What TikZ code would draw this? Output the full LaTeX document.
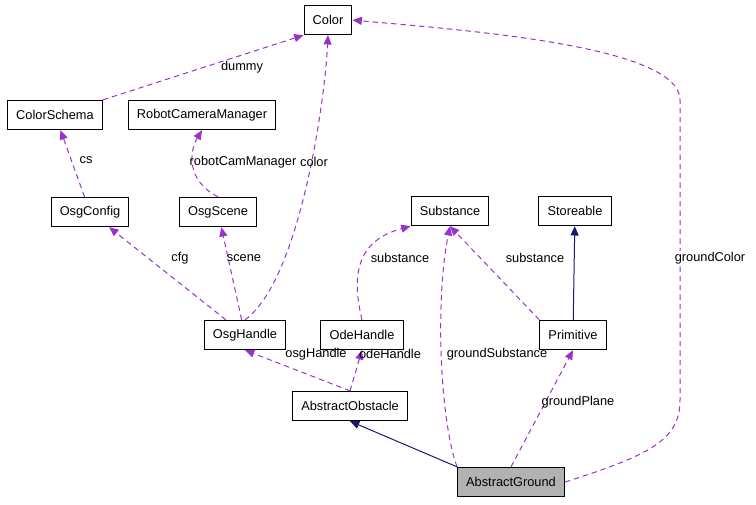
\documentclass[tikz,border=0pt]{standalone}
\usepackage{fontspec}
\setmainfont{Liberation Sans}
\usetikzlibrary{arrows.meta}
\definecolor{edgeuse}{RGB}{153,50,204}
\definecolor{edgeinh}{RGB}{25,25,112}
\begin{document}
\begin{tikzpicture}[x=0.75pt,y=-0.75pt,
    font=\fontsize{9.6}{11}\selectfont,
    cls/.style={draw,line width=0.75pt,minimum height=22pt,inner xsep=6.5pt},
    use/.style={draw=edgeuse,dash pattern=on 4pt off 3pt,line width=0.75pt,-{Triangle[length=7pt,width=6pt]}},
    inh/.style={draw=edgeinh,line width=0.75pt,-{Triangle[length=7pt,width=6pt]}},
    lbl/.style={inner sep=1pt}]

    % frame of the picture
    \useasboundingbox (0,0) rectangle (756,504);

    % the classes
    \node[cls] (Color) at (328,20) {Color};
    \node[cls] (ColorSchema) at (55,115) {ColorSchema};
    \node[cls] (RobotCameraManager) at (202,115) {RobotCameraManager};
    \node[cls] (OsgConfig) at (90,212) {OsgConfig};
    \node[cls] (OsgScene) at (218,212) {OsgScene};
    \node[cls] (Substance) at (450,211) {Substance};
    \node[cls] (Storeable) at (575,211) {Storeable};
    \node[cls] (OsgHandle) at (245,335) {OsgHandle};
    \node[cls] (OdeHandle) at (362,335) {OdeHandle};
    \node[cls] (Primitive) at (573,335) {Primitive};
    \node[cls] (AbstractObstacle) at (350,406) {AbstractObstacle};
    \node[cls,fill=black!30] (AbstractGround) at (511,482) {AbstractGround};

    % uses
    \draw[use] (ColorSchema.north east) -- (Color.south west);
    \node[lbl] (lDummy) at (242,67) {dummy};
    \draw[use] (OsgConfig) -- (ColorSchema);
    \node[lbl] (lCs) at (86,160) {cs};
    \draw[use] (OsgScene.north) .. controls (185,180) and (190,150) .. (RobotCameraManager.south);
    \node[lbl] (lRcm) at (243,162) {robotCamManager};
    \draw[use] (OsgHandle) -- (OsgConfig);
    \node[lbl] (lCfg) at (180,258) {cfg};
    \draw[use] (OsgHandle) -- (OsgScene);
    \node[lbl] (lScene) at (244,258) {scene};
    \draw[use] (OsgHandle.north) .. controls (300,280) and (325,100) .. (Color.south);
    \node[lbl] (lColor) at (314,162) {color};
    \draw[use] (OdeHandle.north) .. controls (350,270) and (360,240) .. (Substance.south west);
    \node[lbl] (lSub1) at (400,258) {substance};
    \draw[use] (Primitive.north west) -- (Substance.south);
    \node[lbl] (lSub2) at (535,258) {substance};
    \draw[use] (AbstractObstacle.north) -- (OsgHandle.south);
    \node[lbl] (lOsg) at (316,354) {osgHandle};
    \draw[use] (AbstractObstacle.north) -- (OdeHandle.south);
    \node[lbl] (lOde) at (390,354) {odeHandle};
    \draw[use] (AbstractGround.north west) .. controls (440,420) and (435,300) .. (Substance.south);
    \node[lbl] (lGSub) at (497,354) {groundSubstance};
    \draw[use] (AbstractGround.north) -- (Primitive.south);
    \node[lbl] (lGPlane) at (578,402) {groundPlane};
    \draw[use] (AbstractGround.east) .. controls (650,455) and (680,440) .. (680,400)
        -- (680,100) .. controls (680,45) and (460,30) .. (Color.east);
    \node[lbl,fill=white] (lGColor) at (710,258) {groundColor};

    % inheritance
    \draw[inh] (Primitive) -- (Storeable);
    \draw[inh] (AbstractGround.north west) -- (AbstractObstacle.south);
\end{tikzpicture}
\end{document}
